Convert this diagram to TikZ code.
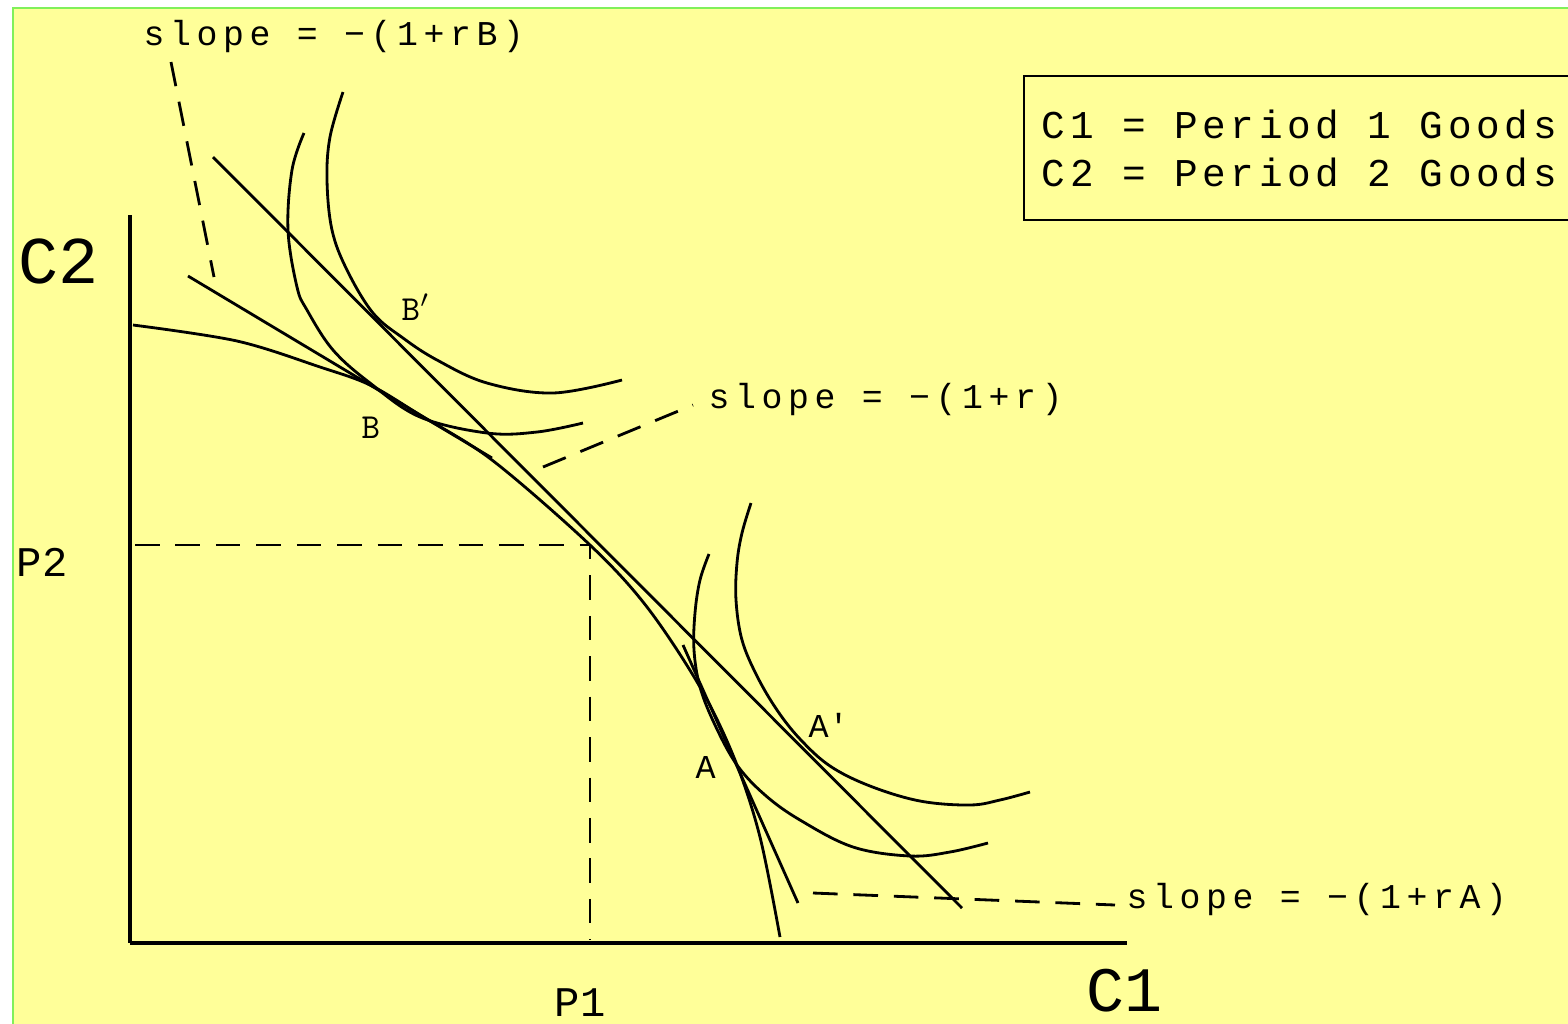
\documentclass[tikz,border=0pt]{standalone}
\usepackage{fontspec}
\usepackage{tikz}
\usetikzlibrary{positioning, calc}
\newfontfamily\cadfont{Liberation Mono}
\newfontfamily\cadwide{Liberation Mono}[LetterSpace=12]
\newfontfamily\cadwider{Liberation Mono}[LetterSpace=16]
\definecolor{paper}{RGB}{255,255,153}
\definecolor{frame}{RGB}{128,240,90}
\tikzset{
  curve/.style={line width=0.8pt, color=black},
  axis/.style={line width=0.9pt, color=black},
  leader/.style={line width=0.8pt, dash pattern=on 7pt off 4.5pt},
  lbl/.style={inner sep=0pt, anchor=base west},
  slopelbl/.style={lbl, font=\cadwider\fontsize{9.9}{12}\selectfont},
  keylbl/.style={lbl, font=\cadwide\fontsize{11.2}{13}\selectfont},
  axlbl/.style={lbl, font=\cadfont\fontsize{19}{22}\selectfont},
  ptlbl/.style={lbl, font=\cadfont\fontsize{12}{14}\selectfont},
  eqlbl/.style={lbl, font=\cadfont\fontsize{9.5}{11}\selectfont}
}

\begin{document}
\begin{tikzpicture}[x=0.01cm, y=-0.01cm]
  \useasboundingbox (0,0) rectangle (1568,1023);
  \fill[white] (0,0) rectangle (1568,1023);
  \draw[frame, fill=paper, line width=0.6pt] (13,8) rectangle (1580,1035);

  % axes
  \coordinate (o) at (130,943);
  \coordinate (ytop) at (130,215);
  \coordinate (xend) at (1127,943);
  \draw[axis] (ytop) -- (o);
  \draw[axis, line width=1.2pt] (o) -- (xend);
  \node[axlbl] (c2) at (18,283) {C2};
  \node[axlbl, font=\cadfont\fontsize{18}{20}\selectfont] (c1) at (1086,1011) {C1};

  % production point
  \coordinate (p) at (590,545);
  \coordinate (p2) at (135,545);
  \coordinate (p1) at (590,940);
  \draw[leader] (p2) -- (p) -- (p1);
  \node[ptlbl] (lp2) at (16,576) {P2};
  \node[ptlbl] (lp1) at (554,1016) {P1};

  % frontier
  \draw[curve] plot[smooth, tension=0.55] coordinates {(133,325) (237,341) (320,367) (370,385) (420,415) (492,460) (590,545) (647,607) (700,687) (735,760) (760,837) (780,937)};

  % budget lines
  \draw[curve] (213,157) -- (962,908);
  \draw[curve] (188,276) -- (492,458);
  \draw[curve] (683,645) -- (798,903);

  % indifference curves
  \draw[curve] plot[smooth, tension=0.6] coordinates {(304,133) (292,170) (288,230) (297,287) (307,310) (333,350) (370,383) (420,417) (487,433) (537,432) (583,423)};
  \draw[curve] plot[smooth, tension=0.6] coordinates {(343,92) (330,137) (327,180) (332,230) (347,270) (373,313) (403,338) (437,360) (487,383) (553,393) (622,380)};
  \draw[curve] plot[smooth, tension=0.6] coordinates {(709,554) (700,580) (695,613) (694,650) (700,687) (715,725) (737,765) (765,795) (800,820) (853,847) (910,856) (950,852) (988,843)};
  \draw[curve] plot[smooth, tension=0.6] coordinates {(751,503) (742,533) (737,563) (736,600) (742,640) (757,676) (777,710) (800,739) (830,766) (870,786) (920,801) (970,805) (1000,800) (1030,792)};

  \node[eqlbl, font=\ttfamily\fontsize{10}{12}\selectfont] (bp) at (401,320) {B$'$};
  \node[eqlbl, font=\ttfamily\fontsize{10}{12}\selectfont] (b) at (361,438) {B};
  \node[eqlbl] (ap) at (808,737) {A′};
  \node[eqlbl] (a) at (695,778) {A};

  % slope labels
  \node[slopelbl] (srb) at (143,45) {slope = −(1+rB)};
  \node[slopelbl] (sr) at (708,408) {slope = −(1+r)};
  \node[slopelbl] (sra) at (1126,908) {slope = −(1+rA)};
  \draw[leader] (171,62) -- (214,277);
  \draw[leader] (543,467) -- (693,405);
  \draw[leader] (813,893) -- (1115,905);

  % key
  \draw[line width=0.8pt] (1580,76) -| (1024,220) -- (1580,220);
  \node[keylbl] (k1) at (1041,138) {C1 = Period 1 Goods};
  \node[keylbl] (k2) at (1041,186) {C2 = Period 2 Goods};
\end{tikzpicture}
\end{document}
